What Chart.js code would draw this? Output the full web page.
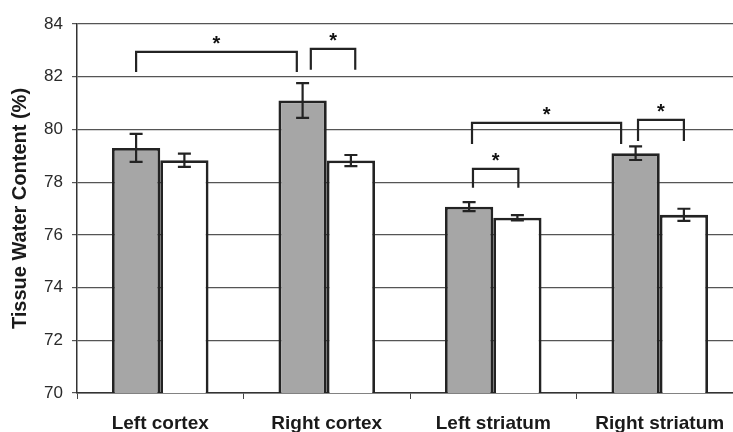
<!DOCTYPE html>
<html>
<head>
<meta charset="utf-8">
<script src="https://cdn.jsdelivr.net/npm/chart.js@4/dist/chart.umd.min.js"></script>
<style>
  html, body { margin: 0; padding: 0; background: #fff; overflow: hidden; }
  #wrap { width: 750px; height: 432px; }
</style>
</head>
<body>
<div id="wrap"><canvas id="waterChart" width="750" height="432"></canvas></div>
<script>
// data
const regions = ['Left cortex', 'Right cortex', 'Left striatum', 'Right striatum'];
const grayValues = [79.3, 81.1, 77.07, 79.1];
const grayErrors = [0.53, 0.66, 0.17, 0.26];
const whiteValues = [78.83, 78.82, 76.65, 76.76];
const whiteErrors = [0.25, 0.21, 0.1, 0.23];
const yTicks = [70, 72, 74, 76, 78, 80, 82, 84];

// significance brackets: [category, dataset, shift in bar widths] for each leg, top / leg end in % units
const brackets = [
  { from: [0, 0, 0], to: [1, 0, -0.12], top: 82.94, leg: 82.18 },
  { from: [1, 0, 0.17], to: [1, 1, 0.09], top: 83.06, leg: 82.26 },
  { from: [2, 0, 0.08], to: [2, 1, 0.02], top: 78.5, leg: 77.79 },
  { from: [2, 0, 0.06], to: [3, 0, -0.3], top: 80.25, leg: 79.45 },
  { from: [3, 0, 0.05], to: [3, 1, 0], top: 80.36, leg: 79.56 }
];

const errorSets = [grayErrors, whiteErrors];
const ink = '#232323';
const fontFamily = '"Liberation Sans", Arial, sans-serif';

const errorBarPlugin = {
  id: 'errorBars',
  afterDatasetsDraw(chart) {
    const ctx = chart.ctx;
    const y = chart.scales.y;
    ctx.save();
    ctx.strokeStyle = ink;
    ctx.lineWidth = 2.2;
    chart.data.datasets.forEach((ds, i) => {
      const meta = chart.getDatasetMeta(i);
      meta.data.forEach((bar, j) => {
        const v = ds.data[j];
        const e = errorSets[i][j];
        const yt = y.getPixelForValue(v + e);
        const yb = y.getPixelForValue(v - e);
        const cap = 6.5;
        ctx.beginPath();
        ctx.moveTo(bar.x, yt);
        ctx.lineTo(bar.x, yb);
        ctx.moveTo(bar.x - cap, yt);
        ctx.lineTo(bar.x + cap, yt);
        ctx.moveTo(bar.x - cap, yb);
        ctx.lineTo(bar.x + cap, yb);
        ctx.stroke();
      });
    });
    ctx.restore();
  }
};

const bracketPlugin = {
  id: 'brackets',
  afterDatasetsDraw(chart) {
    const ctx = chart.ctx;
    const y = chart.scales.y;
    const legX = (p) => {
      const bar = chart.getDatasetMeta(p[1]).data[p[0]];
      return bar.x + p[2] * bar.width;
    };
    ctx.save();
    ctx.strokeStyle = ink;
    ctx.fillStyle = '#111';
    ctx.lineWidth = 2.2;
    ctx.font = 'bold 20px ' + fontFamily;
    ctx.textAlign = 'center';
    ctx.textBaseline = 'alphabetic';
    brackets.forEach(b => {
      const x1 = legX(b.from);
      const x2 = legX(b.to);
      const yt = y.getPixelForValue(b.top);
      const yl = y.getPixelForValue(b.leg);
      ctx.beginPath();
      ctx.moveTo(x1, yl);
      ctx.lineTo(x1, yt);
      ctx.lineTo(x2, yt);
      ctx.lineTo(x2, yl);
      ctx.stroke();
      ctx.fillText('*', (x1 + x2) / 2, yt - 2);
    });
    ctx.restore();
  }
};

new Chart(document.getElementById('waterChart').getContext('2d'), {
  type: 'bar',
  data: {
    labels: regions,
    datasets: [
      {
        label: 'Gray',
        data: grayValues,
        backgroundColor: '#a6a6a6',
        borderColor: ink,
        borderWidth: 2.8,
        borderSkipped: false
      },
      {
        label: 'White',
        data: whiteValues,
        backgroundColor: '#ffffff',
        borderColor: ink,
        borderWidth: 2.8,
        borderSkipped: false
      }
    ]
  },
  options: {
    responsive: false,
    animation: false,
    layout: { padding: { top: 24, right: 7, left: 0, bottom: 0 } },
    plugins: {
      legend: { display: false },
      tooltip: { enabled: false }
    },
    datasets: {
      bar: { categoryPercentage: 0.58, barPercentage: 1.0 }
    },
    scales: {
      x: {
        offset: true,
        afterFit(scale) { scale.height = 39; },
        grid: {
          display: true,
          offset: true,
          drawOnChartArea: false,
          drawTicks: true,
          tickLength: 6,
          color: '#444'
        },
        border: { display: true, color: '#333', width: 1.5 },
        ticks: {
          color: '#1a1a1a',
          padding: 13,
          maxRotation: 0,
          font: { family: fontFamily, size: 19, weight: 'bold' }
        }
      },
      y: {
        min: 70,
        max: 84,
        afterFit(scale) { scale.width = 77; },
        afterBuildTicks(scale) { scale.ticks = yTicks.map(v => ({ value: v })); },
        grid: {
          color: '#555',
          lineWidth: 1.2,
          drawTicks: true,
          tickLength: 5
        },
        border: { display: true, color: '#333', width: 1.5 },
        ticks: {
          color: '#2a2a2a',
          padding: 9,
          font: { family: fontFamily, size: 17 }
        },
        title: {
          display: true,
          text: 'Tissue Water Content (%)',
          color: '#1a1a1a',
          padding: { top: 8, bottom: 0 },
          font: { family: fontFamily, size: 20, weight: 'bold' }
        }
      }
    }
  },
  plugins: [errorBarPlugin, bracketPlugin]
});
</script>
</body>
</html>
